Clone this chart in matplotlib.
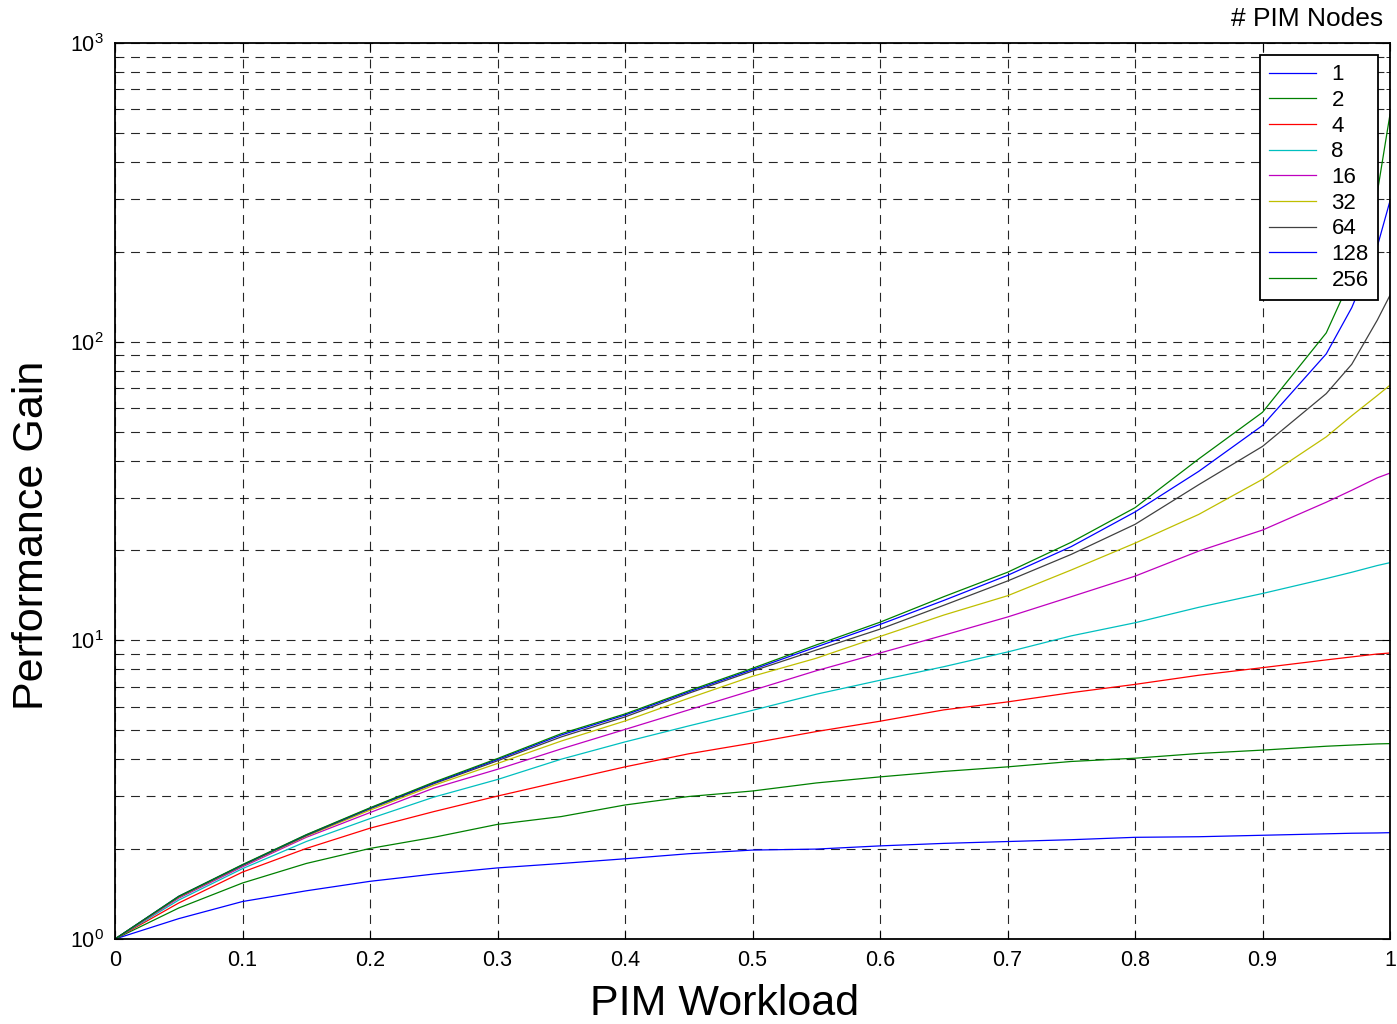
import matplotlib
matplotlib.use("Agg")
import matplotlib.pyplot as plt
from matplotlib.ticker import LogLocator, NullFormatter

plt.rcParams['font.family'] = ['Liberation Sans', 'DejaVu Sans']
plt.rcParams['mathtext.default'] = 'regular'

# ---- data ----
workload = [0.0, 0.05, 0.10, 0.15, 0.20, 0.25, 0.30, 0.35, 0.40, 0.45, 0.50, 0.55,
            0.60, 0.65, 0.70, 0.75, 0.80, 0.85, 0.90, 0.95, 0.97, 0.99, 1.00]

node_labels = ['1', '2', '4', '8', '16', '32', '64', '128', '256']

gain_1 = [1, 1.17, 1.335, 1.45, 1.56, 1.65, 1.73, 1.79, 1.856, 1.93, 1.985, 2.0,
          2.05, 2.09, 2.12, 2.15, 2.19, 2.20, 2.225, 2.25, 2.26, 2.265, 2.27]
gain_2 = [1, 1.27, 1.54, 1.79, 2.01, 2.19, 2.42, 2.57, 2.81, 3.0, 3.13, 3.33,
          3.49, 3.64, 3.77, 3.93, 4.03, 4.18, 4.29, 4.42, 4.46, 4.50, 4.51]
gain_4 = [1, 1.32, 1.675, 2.01, 2.35, 2.67, 3.01, 3.37, 3.77, 4.17, 4.53, 4.95,
          5.36, 5.85, 6.22, 6.68, 7.12, 7.64, 8.1, 8.6, 8.8, 9.0, 9.07]
gain_8 = [1, 1.35, 1.72, 2.12, 2.53, 2.985, 3.42, 4.0, 4.57, 5.17, 5.83, 6.6,
          7.35, 8.16, 9.14, 10.35, 11.45, 12.9, 14.35, 16.1, 16.9, 17.8, 18.2]
gain_16 = [1, 1.37, 1.745, 2.19, 2.65, 3.20, 3.70, 4.33, 5.03, 5.85, 6.80, 7.91,
           9.07, 10.4, 11.97, 14.0, 16.4, 19.9, 23.4, 29.0, 31.8, 35.0, 36.3]
gain_32 = [1, 1.38, 1.76, 2.21, 2.70, 3.27, 3.87, 4.60, 5.37, 6.40, 7.58, 8.71,
           10.3, 12.15, 14.1, 17.2, 21.15, 26.4, 34.6, 48.0, 56.5, 66.0, 71.5]
gain_64 = [1, 1.385, 1.765, 2.22, 2.73, 3.31, 3.95, 4.75, 5.54, 6.65, 7.89, 9.28,
           10.9, 13.1, 15.8, 19.4, 24.45, 33.2, 44.6, 67, 84, 118, 143]
gain_128 = [1, 1.39, 1.77, 2.23, 2.74, 3.33, 3.99, 4.82, 5.62, 6.72, 7.98, 9.5,
            11.3, 13.6, 16.5, 20.6, 26.9, 36.8, 52.4, 91, 130, 208, 296]
gain_256 = [1, 1.39, 1.775, 2.235, 2.75, 3.35, 4.02, 4.87, 5.67, 6.78, 8.06, 9.65,
            11.5, 14.0, 16.9, 21.3, 27.8, 40.5, 58, 107, 165, 315, 577]

x_ticks = [0, 0.1, 0.2, 0.3, 0.4, 0.5, 0.6, 0.7, 0.8, 0.9, 1.0]
x_ticklabels = ['0', '0.1', '0.2', '0.3', '0.4', '0.5', '0.6', '0.7', '0.8', '0.9', '1']

series = [gain_1, gain_2, gain_4, gain_8, gain_16, gain_32, gain_64, gain_128, gain_256]
colors = [(0, 0, 1), (0, 0.5, 0), (1, 0, 0), (0, 0.75, 0.75), (0.75, 0, 0.75),
          (0.75, 0.75, 0), (0.25, 0.25, 0.25), (0, 0, 1), (0, 0.5, 0)]

# ---- figure ----
W, H = 1397, 1024
fig = plt.figure(figsize=(W/100, H/100), dpi=100)
ax = fig.add_axes([115/W, 1 - 939/H, (1390-115)/W, (939-43)/H])

for vals, lab, c in zip(series, node_labels, colors):
    ax.plot(workload, vals, color=c, lw=0.9, label=lab)

ax.set_yscale('log')
ax.set_xlim(0, 1)
ax.set_ylim(1, 1000)
ax.set_xticks(x_ticks)
ax.set_xticklabels(x_ticklabels)
ax.yaxis.set_major_locator(LogLocator(base=10, numticks=10))
ax.yaxis.set_minor_locator(LogLocator(base=10, subs=range(2, 10), numticks=20))
ax.yaxis.set_minor_formatter(NullFormatter())

gridstyle = dict(color='black', linestyle=(0, (8, 6)), linewidth=0.8, alpha=0.85)
ax.grid(True, which='major', axis='both', **gridstyle)
ax.grid(True, which='minor', axis='y', **gridstyle)

ax.tick_params(which='both', direction='in', top=True, right=True, labelsize=15.5, pad=8)
ax.tick_params(which='major', length=6)
ax.tick_params(which='minor', length=3)
for s in ax.spines.values():
    s.set_linewidth(1.3)

ax.set_xlabel('PIM Workload', fontsize=31)
ax.set_ylabel('Performance Gain', fontsize=31)
# label centres as in the reference
ax.xaxis.set_label_coords((725-115)/1275, -(1004-939)/896)
ax.yaxis.set_label_coords(-(115-32)/1275, (939-535)/896)
ax.xaxis.label.set_va('center')
ax.yaxis.label.set_va('center')

leg = ax.legend(loc='upper right', bbox_to_anchor=((1378-115)/1275, (939-55)/896),
                borderaxespad=0, fontsize=16, frameon=True, fancybox=False,
                labelspacing=0.21, handlelength=2.1, handletextpad=0.7,
                borderpad=0.42)
leg.get_frame().set_edgecolor('black')
leg.get_frame().set_linewidth(1.3)
leg.get_frame().set_alpha(1)

fig.text(1383/W, 1 - 19/H, '# PIM Nodes', ha='right', va='center', fontsize=19)

fig.savefig('out.png', dpi=100)
